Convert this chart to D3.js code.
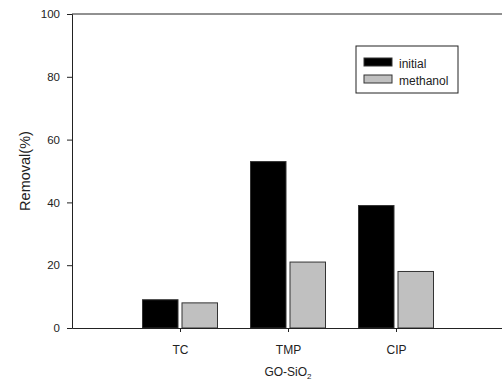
<!DOCTYPE html>
<html>
<head>
<meta charset="utf-8">
<script src="https://d3js.org/d3.v7.min.js"></script>
<style>
  body { margin: 0; background: #fff; }
  svg { display: block; font-family: "Liberation Sans", Arial, sans-serif; }
</style>
</head>
<body>
<div id="graph"></div>
<script>
// chart data
var categories = ["TC", "TMP", "CIP"];
var seriesNames = ["initial", "methanol"];
var initialVals = [9, 53, 39];
var methanolVals = [8, 21, 18];
var yTicks = [0, 20, 40, 60, 80, 100];

var width = 502, height = 383;
var margin = {top: 14, right: 0, bottom: 55, left: 72};

var svg = d3.select("#graph").append("svg")
    .attr("width", width)
    .attr("height", height);

// x positions 1..3 on a 0..4 axis, like the original plot
var x = d3.scaleLinear().domain([0, 4]).range([margin.left, 504]);
var y = d3.scaleLinear().domain([0, 100]).range([height - margin.bottom, margin.top]);

var barW = 35.5, gap = 4;
var colors = ["#000000", "#c0c0c0"];
var series = [initialVals, methanolVals];

series.forEach(function(vals, s) {
  svg.append("g").selectAll("rect")
    .data(vals)
    .enter().append("rect")
      .attr("x", function(d, i) {
        var c = x(i + 1);
        return s === 0 ? c - gap / 2 - barW : c + gap / 2;
      })
      .attr("y", function(d) { return y(d); })
      .attr("width", barW)
      .attr("height", function(d) { return y(0) - y(d); })
      .attr("fill", colors[s])
      .attr("stroke", "#333")
      .attr("stroke-width", 1);
});

// Y axis
var yAxis = svg.append("g")
  .attr("transform", "translate(" + margin.left + ",0)")
  .call(d3.axisLeft(y).tickValues(yTicks).tickSize(5).tickPadding(7));
yAxis.select(".domain").attr("stroke", "#222");
yAxis.selectAll(".tick line").attr("stroke", "#222");
yAxis.selectAll("text").attr("font-size", "11.5px").attr("fill", "#222")
  .attr("font-family", "Liberation Sans, Arial, sans-serif");

// X axis
var xAxis = svg.append("g")
  .attr("transform", "translate(0," + y(0) + ")")
  .call(d3.axisBottom(x).tickValues([1, 2, 3])
    .tickFormat(function(d) { return categories[d - 1]; })
    .tickSize(4).tickSizeOuter(0).tickPadding(13));
xAxis.select(".domain").attr("stroke", "#222");
xAxis.selectAll(".tick line").attr("stroke", "#222");
xAxis.selectAll("text").attr("font-size", "12px").attr("fill", "#222")
  .attr("font-family", "Liberation Sans, Arial, sans-serif");

// top frame line
svg.append("line")
  .attr("x1", margin.left).attr("x2", width)
  .attr("y1", y(100)).attr("y2", y(100))
  .attr("stroke", "#222");

// axis titles
svg.append("text")
  .attr("transform", "translate(30," + ((y(0) + y(100)) / 2) + ") rotate(-90)")
  .attr("text-anchor", "middle")
  .attr("font-size", "14.5px")
  .attr("fill", "#222")
  .text("Removal(%)");

var xt = svg.append("text")
  .attr("x", x(2)).attr("y", 376)
  .attr("text-anchor", "middle")
  .attr("font-size", "12px")
  .attr("fill", "#222");
xt.append("tspan").text("GO-SiO");
xt.append("tspan").attr("font-size", "8px").attr("dy", 3).text("2");

// legend
var lg = svg.append("g").attr("transform", "translate(356,46)");
lg.append("rect").attr("width", 102).attr("height", 47)
  .attr("fill", "#fff").attr("stroke", "#222");
seriesNames.forEach(function(n, i) {
  var row = lg.append("g").attr("transform", "translate(8," + (12 + i * 17) + ")");
  row.append("rect").attr("width", 28).attr("height", 8)
    .attr("fill", colors[i]).attr("stroke", "#333");
  row.append("text").attr("x", 35).attr("y", 9.5)
    .attr("font-size", "12px").attr("fill", "#222").text(n);
});
</script>
</body>
</html>
